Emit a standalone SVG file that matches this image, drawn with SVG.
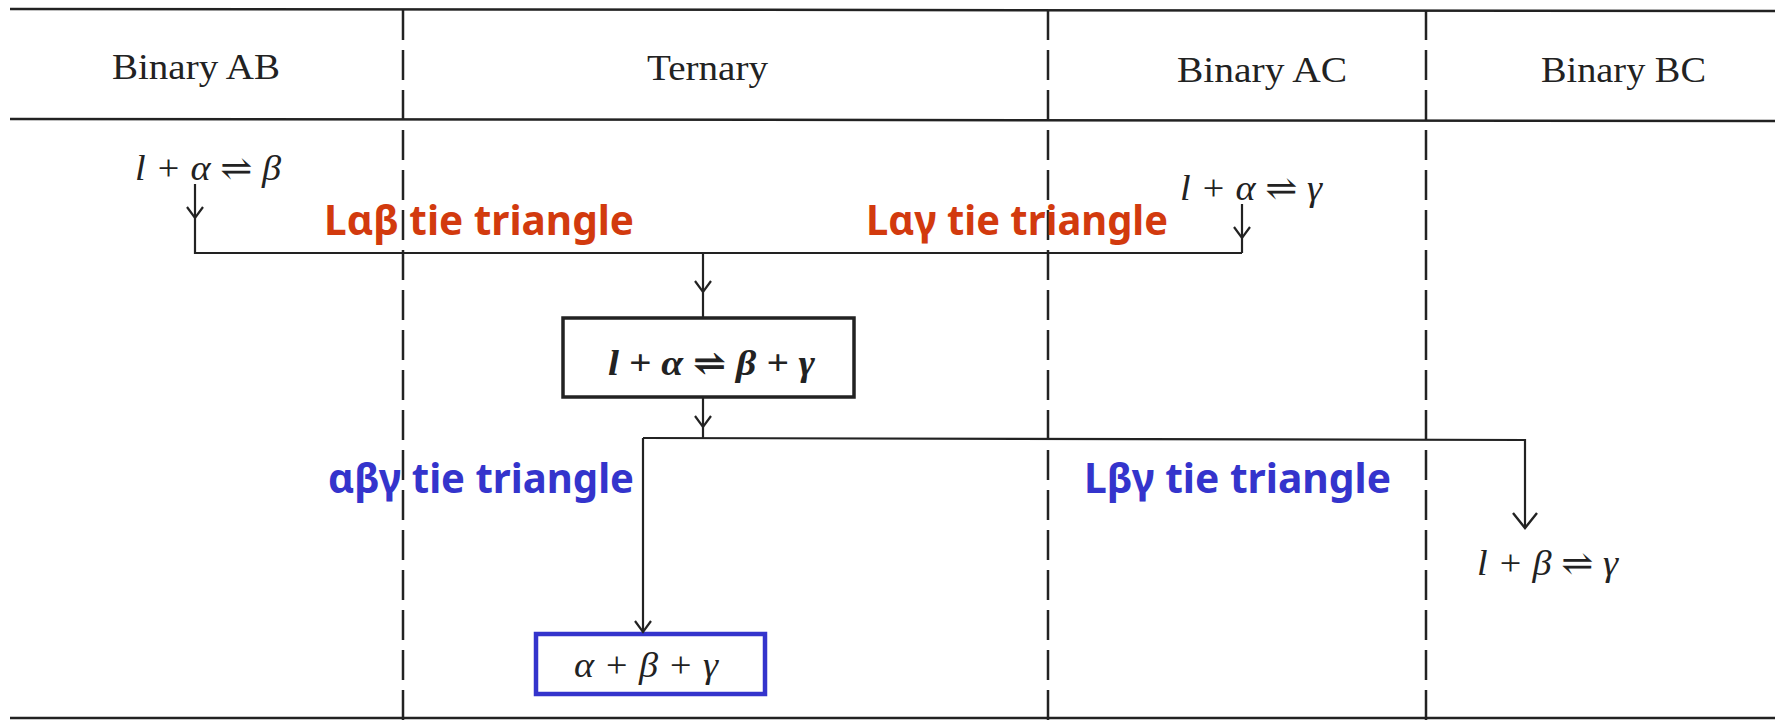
<svg xmlns="http://www.w3.org/2000/svg" width="1775" height="720" viewBox="0 0 1775 720">
<style>
.rule{stroke:#222;stroke-width:2.5;fill:none}
.dash{stroke:#222;stroke-width:2.5;stroke-dasharray:30 10;fill:none}
.hdr{font-family:"Liberation Serif",serif;font-size:36px;fill:#222}
.math{font-family:"Liberation Serif","DejaVu Serif",serif;font-style:italic;font-size:35px;fill:#222}
.conn{stroke:#222;stroke-width:2.2;fill:none}
.lbl{font-family:"Noto Sans",sans-serif;font-weight:bold;font-size:42px}
.red{fill:#d23a0e}
.blue{fill:#3434cc}
</style>
<defs>
<marker id="ah" viewBox="-14 -10 16 20" refX="0" refY="0" markerWidth="16" markerHeight="20" markerUnits="userSpaceOnUse" orient="auto">
<path d="M-11,-8 L0,0 L-11,8" stroke="#222" stroke-width="2.2" fill="none"/>
</marker>
<marker id="ahL" viewBox="-18 -14 20 28" refX="0" refY="0" markerWidth="20" markerHeight="28" markerUnits="userSpaceOnUse" orient="auto">
<path d="M-15,-12 L0,0 L-15,12" stroke="#222" stroke-width="2.4" fill="none"/>
</marker>
</defs>
<rect width="1775" height="720" fill="#fff"/>
<g id="table">
<line class="rule" x1="10" y1="9" x2="1775" y2="11"/>
<line class="rule" x1="10" y1="119" x2="1775" y2="121"/>
<line class="rule" x1="10" y1="718" x2="1775" y2="718"/>
<line class="dash" x1="403" y1="10" x2="403" y2="720"/>
<line class="dash" x1="1048" y1="10" x2="1048" y2="720"/>
<line class="dash" x1="1426" y1="10" x2="1426" y2="720"/>
<text class="hdr" x="112" y="79" textLength="168" lengthAdjust="spacingAndGlyphs">Binary AB</text>
<text class="hdr" x="647" y="80" textLength="121" lengthAdjust="spacingAndGlyphs">Ternary</text>
<text class="hdr" x="1177" y="82" textLength="170" lengthAdjust="spacingAndGlyphs">Binary AC</text>
<text class="hdr" x="1541" y="82" textLength="165" lengthAdjust="spacingAndGlyphs">Binary BC</text>
</g>
<g id="node-ab">
<text class="math" x="135" y="180" textLength="146" lengthAdjust="spacingAndGlyphs">l + α ⇌ β</text>
</g>
<g id="node-ac">
<text class="math" x="1180" y="200" textLength="142" lengthAdjust="spacingAndGlyphs">l + α ⇌ γ</text>
</g>
<g id="node-ternary">
<rect x="563" y="318" width="291" height="79" fill="none" stroke="#222" stroke-width="3.5"/>
<text class="math" x="608" y="375" textLength="207" lengthAdjust="spacingAndGlyphs" font-weight="bold">l + α ⇌ β + γ</text>
</g>
<g id="node-abg">
<rect x="536" y="634" width="229" height="60" fill="none" stroke="#3434cc" stroke-width="4.5"/>
<text class="math" x="574" y="677" textLength="144" lengthAdjust="spacingAndGlyphs">α + β + γ</text>
</g>
<g id="node-bc">
<text class="math" x="1477" y="575" textLength="141" lengthAdjust="spacingAndGlyphs">l + β ⇌ γ</text>
</g>
<g id="connectors">
<line class="conn" x1="195" y1="184" x2="195" y2="218" marker-end="url(#ah)"/>
<polyline class="conn" points="195,218 195,253 1242,253"/>
<line class="conn" x1="1242" y1="204" x2="1242" y2="238" marker-end="url(#ah)"/>
<line class="conn" x1="1242" y1="238" x2="1242" y2="253"/>
<line class="conn" x1="703" y1="253" x2="703" y2="292" marker-end="url(#ah)"/>
<line class="conn" x1="703" y1="292" x2="703" y2="318"/>
<line class="conn" x1="703" y1="397" x2="703" y2="427" marker-end="url(#ah)"/>
<line class="conn" x1="703" y1="427" x2="703" y2="438"/>
<polyline class="conn" points="643,438 1525,440 1525,528" marker-end="url(#ahL)"/>
<line class="conn" x1="643" y1="438" x2="643" y2="632" marker-end="url(#ah)"/>
</g>
<g id="labels">
<text class="lbl red" x="324" y="235" textLength="310" lengthAdjust="spacingAndGlyphs">Lαβ tie triangle</text>
<text class="lbl red" x="866" y="235" textLength="302" lengthAdjust="spacingAndGlyphs">Lαγ tie triangle</text>
<text class="lbl blue" x="328" y="493" textLength="306" lengthAdjust="spacingAndGlyphs">αβγ tie triangle</text>
<text class="lbl blue" x="1084" y="493" textLength="307" lengthAdjust="spacingAndGlyphs">Lβγ tie triangle</text>
</g>
</svg>
